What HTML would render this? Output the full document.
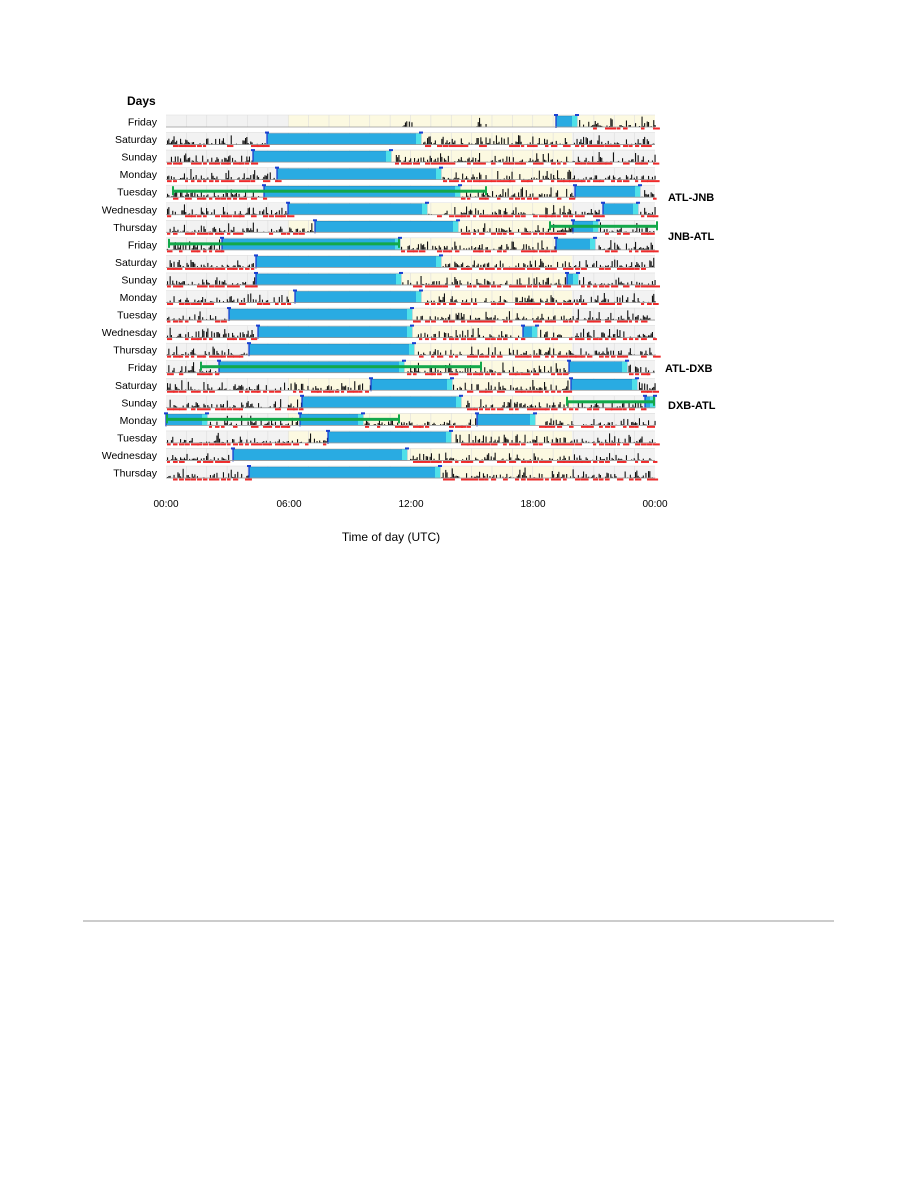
<!DOCTYPE html>
<html><head><meta charset="utf-8">
<style>
html,body{margin:0;padding:0;background:#fff;}
body{width:918px;height:1188px;position:relative;overflow:hidden;font-family:"Liberation Sans",sans-serif;}
svg{position:absolute;left:0;top:0;}
</style></head>
<body>
<svg id="s" width="918" height="1188" xmlns="http://www.w3.org/2000/svg" font-family="Liberation Sans, sans-serif">
<text x="127" y="105" font-size="12" font-weight="bold" fill="#000">Days</text>
<g id="rows"></g>
<g font-size="10" fill="#000" text-anchor="middle">
<text x="166" y="507">00:00</text><text x="289" y="507">06:00</text><text x="411" y="507">12:00</text><text x="533" y="507">18:00</text><text x="655" y="507">00:00</text>
</g>
<text x="391" y="541" font-size="12" text-anchor="middle" fill="#000">Time of day (UTC)</text>
<g font-size="11" font-weight="bold" fill="#000">
<text x="668" y="201">ATL-JNB</text>
<text x="668" y="240">JNB-ATL</text>
<text x="665" y="372">ATL-DXB</text>
<text x="668" y="409">DXB-ATL</text>
</g>
<line x1="83" y1="921" x2="834" y2="921" stroke="#999" stroke-width="1"/>
</svg>
<script>
(function(){
var days=["Friday","Saturday","Sunday","Monday","Tuesday","Wednesday","Thursday","Friday","Saturday","Sunday","Monday","Tuesday","Wednesday","Thursday","Friday","Saturday","Sunday","Monday","Tuesday","Wednesday","Thursday"];
var blue=[[[556,577]],[[267,421]],[[253,391]],[[277,441]],[[264,460],[575,640]],[[288,427],[603,638]],[[315,458],[573,598]],[[222,400],[556,595]],[[256,441]],[[256,401],[567,578]],[[295,421]],[[229,412]],[[258,412],[523,537]],[[249,414]],[[219,404],[569,627]],[[371,452],[571,637]],[[302,461],[645,655]],[[166,207],[300,363],[477,535]],[[328,451]],[[233,407]],[[249,440]]];
var green={4:[172,487],6:[549,658],7:[168,400],14:[200,482],16:[566,655],17:[166,400]};
var h='';var seed=7;function r(){seed=(seed*16807)%2147483647;return seed/2147483647;}
for(var i=0;i<21;i++){
 var c=122+i*17.55;var ty=c-7,by=c+5;
 h+='<text x="157" y="'+(c+3.5)+'" font-size="10.5" text-anchor="end" fill="#000">'+days[i]+'</text>';
 h+='<rect x="166" y="'+ty+'" width="489" height="12" fill="#f2f2f2"/>';
 h+='<rect x="288" y="'+ty+'" width="'+(i==0?367:284)+'" height="12" fill="#fcf9e1"/>';
 for(var k=1;k<24;k++){var x=166+k*20.375;h+='<line x1="'+x+'" y1="'+ty+'" x2="'+x+'" y2="'+by+'" stroke="#ddd" stroke-width="0.6"/>';}
 h+='<line x1="166" y1="'+ty+'" x2="655" y2="'+ty+'" stroke="#ddd" stroke-width="0.6"/>';
 var bl=blue[i];
 for(var x=167;x<655;x+=1.3){
  var inb=false;for(var b=0;b<bl.length;b++)if(x>=bl[b][0]-1&&x<=bl[b][1]+1)inb=true;
  if(inb)continue; if(i==0&&x<556&&!(x>400&&x<412)&&!(x>476&&x<486))continue;
  if(r()<0.35)continue;
  var hh=r()*r()*11;h+='<rect x="'+x.toFixed(1)+'" y="'+(by-hh).toFixed(1)+'" width="1.1" height="'+hh.toFixed(1)+'" fill="#111"/>';
 }
 for(var b=0;b<bl.length;b++){var a=bl[b][0],e=bl[b][1];
  h+='<rect x="'+a+'" y="'+(ty+1)+'" width="'+(e-a)+'" height="11" fill="#29abe2" stroke="#1c7fb8" stroke-width="0.5"/>';
  h+='<rect x="'+(e-5)+'" y="'+(ty+1)+'" width="5" height="11" fill="#4fe0e8"/>';
  h+='<line x1="'+a+'" y1="'+ty+'" x2="'+a+'" y2="'+(by+1)+'" stroke="#1a3fd0" stroke-width="1.3"/>';
  h+='<rect x="'+(a-2)+'" y="'+(ty-1)+'" width="4" height="2" fill="#1a3fd0"/><rect x="'+(e-2)+'" y="'+(ty-1)+'" width="4" height="2" fill="#1a3fd0"/>';}
 h+='<line x1="166" y1="'+by+'" x2="655" y2="'+by+'" stroke="#999" stroke-width="0.8"/>';
 for(var x=167;x<655;x+=6){var inb=false;for(var b=0;b<bl.length;b++)if(x>=bl[b][0]&&x<=bl[b][1])inb=true;
  if(inb||r()<0.25)continue;if(i==0&&x<556&&!(x>400&&x<415))continue;h+='<rect x="'+x+'" y="'+(by+0.5)+'" width="'+(3+r()*5).toFixed(1)+'" height="2" fill="#ee2a2a"/>';}
 if(green[i]){var g=green[i];h+='<rect x="'+g[0]+'" y="'+(c-2.5)+'" width="'+(g[1]-g[0])+'" height="3" fill="#13a84a"/><rect x="'+g[0]+'" y="'+(c-6)+'" width="2" height="9" fill="#13a84a"/><rect x="'+(g[1]-2)+'" y="'+(c-6)+'" width="2" height="9" fill="#13a84a"/>';}
}
document.getElementById('rows').innerHTML=h;
})();
</script>
</body></html>
